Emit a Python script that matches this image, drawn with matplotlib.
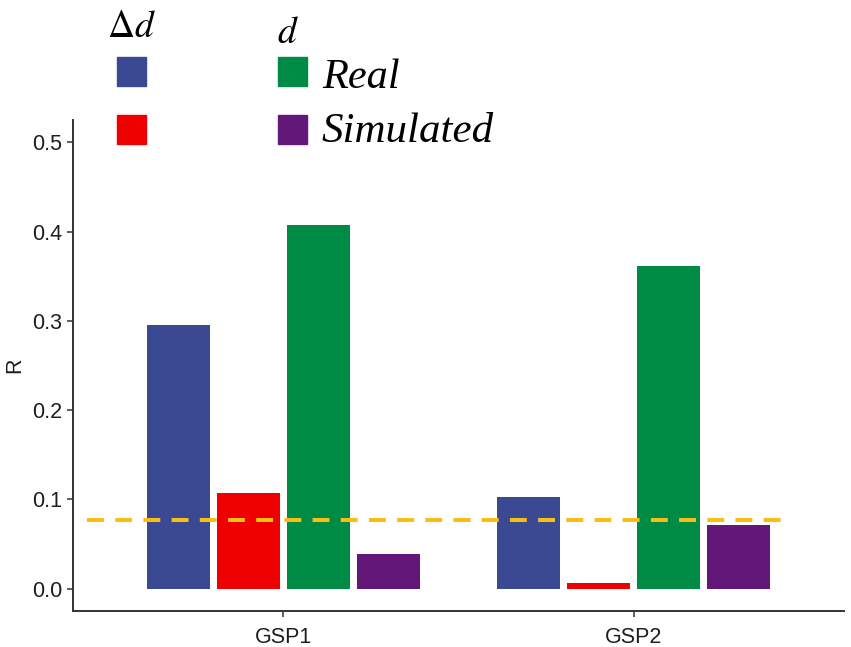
import numpy as np
import matplotlib
matplotlib.use('Agg')
import matplotlib.pyplot as plt
from matplotlib.patches import Rectangle

plt.rcParams['font.family'] = ['Liberation Sans', 'DejaVu Sans']
plt.rcParams['mathtext.fontset'] = 'stix'

# data
groups = ['GSP1', 'GSP2']
series = ['delta_real', 'delta_sim', 'd_real', 'd_sim']
delta_real = [0.295, 0.103]
delta_sim = [0.107, 0.006]
d_real = [0.407, 0.361]
d_sim = [0.039, 0.071]
threshold = 0.0765

colors = ['#3B4992', '#EE0000', '#008B45', '#631879']
line_color = '#F7BE16'

W, H = 851, 647
fig = plt.figure(figsize=(W / 100, H / 100), dpi=100)
ax = fig.add_axes([73 / W, 1 - 611 / H, (844 - 73) / W, (611 - 120) / H])

x = np.arange(1, len(groups) + 1)
slot = 0.2
offsets = [-1.5 * slot, -0.5 * slot, 0.5 * slot, 1.5 * slot]
for vals, off, c in zip([delta_real, delta_sim, d_real, d_sim], offsets, colors):
    ax.bar(x + off, vals, width=0.18, color=c, zorder=2)

ax.plot([0.44, 2.43], [threshold, threshold], color=line_color, lw=2.9,
        linestyle=(0, (4.2, 2.8)), zorder=3)

ax.set_xlim(0.4, 2.6)
ax.set_ylim(-0.025, 0.525)
ax.set_xticks(x)
ax.set_xticklabels(groups)
ax.set_yticks([0.0, 0.1, 0.2, 0.3, 0.4, 0.5])
ax.set_yticklabels(['0.0', '0.1', '0.2', '0.3', '0.4', '0.5'])
ax.tick_params(labelsize=15.5, length=4, width=1.1, colors='#333333',
               labelcolor='#1e1e1e', pad=3.5)
ax.tick_params(axis='x', pad=7.5)
for s in ['top', 'right']:
    ax.spines[s].set_visible(False)
for s in ['left', 'bottom']:
    ax.spines[s].set_linewidth(1.4)
    ax.spines[s].set_color('#333333')
ax.set_ylabel('R', fontsize=15.5, color='#1e1e1e')
ax.yaxis.set_label_coords(-0.062, 0.5)


def px(xp, yp):
    return xp / W, 1 - yp / H


# legend drawn by hand: two columns with titles
fig.text(*px(107, 37), r'$\Delta d$', fontsize=27, ha='left', va='baseline')
fig.text(*px(277, 43), r'$d$', fontsize=27, ha='left', va='baseline')
keys = [(117, 57), (117, 115), (278, 57), (278, 115)]
for (kx, ky), c in zip(keys, colors):
    fig.patches.append(Rectangle(px(kx, ky + 29), 29 / W, 29 / H, color=c,
                                 transform=fig.transFigure))
fig.text(*px(322, 88), 'Real', fontsize=30.5, family='Liberation Serif',
         style='italic', ha='left', va='baseline')
fig.text(*px(322, 142), 'Simulated', fontsize=31, family='Liberation Serif',
         style='italic', ha='left', va='baseline')

fig.savefig('out.png', dpi=100)
